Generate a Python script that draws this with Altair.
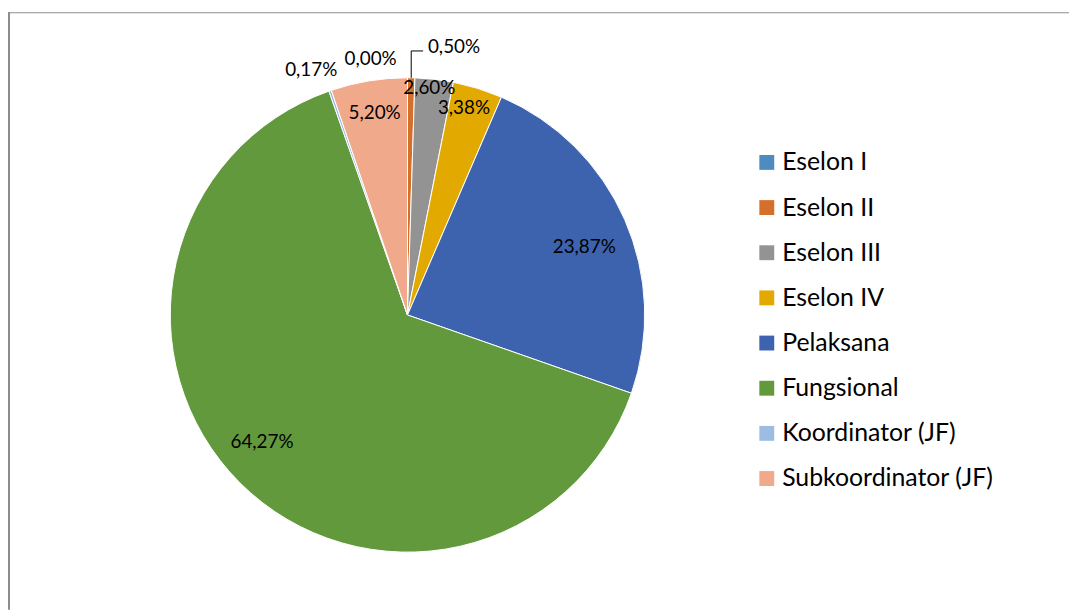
import math
import altair as alt
import pandas as pd

categories = ["Eselon I", "Eselon II", "Eselon III", "Eselon IV",
              "Pelaksana", "Fungsional", "Koordinator (JF)", "Subkoordinator (JF)"]
values = [0.00, 0.50, 2.60, 3.38, 23.87, 64.27, 0.17, 5.20]
colors = ["#4E8BC1", "#D5702B", "#939393", "#E2AA00",
          "#3D63AE", "#62993D", "#9CBDE3", "#F0A98B"]

# label layout (styling): radius in px, angular nudge in degrees
LABEL_LAYOUT = {
    "Eselon I": (260.7, -8.2),
    "Eselon II": (274.0, 8.95),
    "Eselon III": (230.0, -1.0),
    "Eselon IV": (216.5, -2.0),
    "Pelaksana": (190.8, 2.7),
    "Fungsional": (194.3, 4.0),
    "Koordinator (JF)": (265.5, -2.4),
    "Subkoordinator (JF)": (205.7, 0.1),
}

CX, CY, R = 402.5, 307.0, 239
W, H = 1069, 604
FONT = "Lato"
total = sum(values)

df = pd.DataFrame({
    "cat": categories,
    "value": values,
    "order": list(range(len(categories))),
    "lr": [LABEL_LAYOUT[c][0] for c in categories],
    "nudge": [LABEL_LAYOUT[c][1] * total / 360.0 for c in categories],
})

base = alt.Chart(df)

color = alt.Color(
    "cat:N",
    scale=alt.Scale(domain=categories, range=colors),
    sort=categories,
    legend=alt.Legend(
        orient="none", legendX=752, legendY=140.8, title=None,
        symbolType="square", symbolSize=225, symbolStrokeWidth=0,
        labelFont=FONT, labelFontSize=25, labelColor="black", labelLimit=0,
        rowPadding=19.5, labelOffset=3, padding=0,
    ),
)

pie = base.mark_arc(radius=R, stroke="white", strokeWidth=1).encode(
    x=alt.value(CX),
    y=alt.value(CY),
    theta=alt.Theta("value:Q", stack=True, scale=alt.Scale(domain=[0, total])),
    color=color,
    order=alt.Order("order:Q"),
)

labels = base.transform_window(
    cum="sum(value)", sort=[alt.SortField("order")]
).transform_calculate(
    mid="datum.cum - datum.value / 2 + datum.nudge",
    lab="replace(format(datum.value, '.2f'), '.', ',') + '%'",
).mark_text(font=FONT, fontSize=19, color="black").encode(
    x=alt.value(CX),
    y=alt.value(CY),
    theta=alt.Theta("mid:Q", stack=None, scale=alt.Scale(domain=[0, total])),
    radius=alt.Radius("lr:Q", scale=None),
    text="lab:N",
)

# leader line for Eselon II, derived from its slice midpoint
cum_before = sum(values[:1])
mid_ang = (cum_before + values[1] / 2) / total * 2 * math.pi
lx = CX + R * math.sin(mid_ang)
ly = CY - R * math.cos(mid_ang)
ltop = CY - 266

ann = alt.Chart(pd.DataFrame({"k": [0]}))
leader_v = ann.mark_rule(color="black", strokeWidth=1).encode(
    x=alt.value(lx), y=alt.value(ly), y2=alt.value(ltop))
leader_h = ann.mark_rule(color="black", strokeWidth=1).encode(
    x=alt.value(lx), x2=alt.value(lx + 12), y=alt.value(ltop))

border_top = ann.mark_rule(color="#8c8c8c", strokeWidth=1.2).encode(
    x=alt.value(0), x2=alt.value(W), y=alt.value(2.5))
border_left = ann.mark_rule(color="#8c8c8c", strokeWidth=2).encode(
    x=alt.value(1), y=alt.value(2), y2=alt.value(H))

chart = alt.layer(
    pie, labels, leader_v, leader_h, border_top, border_left
).properties(
    width=W, height=H, padding=0, autosize="none",
).configure_view(stroke=None)

chart.save("out.html", embed_options={"renderer": "svg", "actions": False})
